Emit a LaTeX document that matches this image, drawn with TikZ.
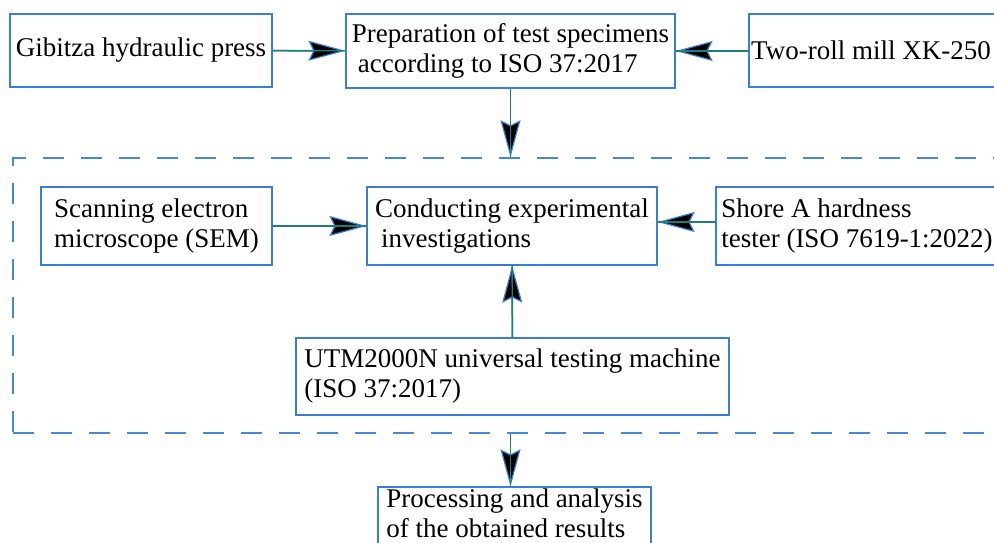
\documentclass[tikz,border=0pt]{standalone}
\usepackage{fontspec}
\setmainfont{Liberation Serif}
\usetikzlibrary{arrows.meta}
\definecolor{boxblue}{RGB}{58,125,212}
\definecolor{dashblue}{RGB}{70,135,215}
\definecolor{lineteal}{RGB}{30,125,125}
\begin{document}
\begin{tikzpicture}[x=1pt,y=-1pt,
  box/.style={draw=boxblue, line width=1.3pt, align=left, inner sep=0pt,
    font=\fontsize{27}{30}\selectfont},
  conn/.style={draw=lineteal, line width=1.6pt,
    -{Stealth[length=37pt,width=20pt,inset=5pt,line width=1.2pt,color=boxblue,fill=black]}},
  over/.style={draw=lineteal, line width=1.4pt},
  frame/.style={draw=dashblue, line width=1.6pt, dash pattern=on 21pt off 17pt, inner sep=0pt}
]
\useasboundingbox (0,0) rectangle (994,543);
\clip (0,0) rectangle (994,543);
\fill[white] (0,0) rectangle (994,543);

\node[frame, minimum width=990pt, minimum height=275pt] (frm) at (508,295.5) {};

\node[box, minimum width=262pt, minimum height=73pt] (gib) at (141,50.5) {Gibitza hydraulic press};
\node[box, minimum width=329pt, minimum height=74pt] (prep) at (510.5,51) {Preparation of test specimens\\\hspace{6pt}according to ISO 37:2017};
\node[box, minimum width=250pt, minimum height=73pt] (two) at (874,50.5) {Two-roll mill XK-250\hspace{6pt}};

\node[box, minimum width=231pt, minimum height=78pt] (sem) at (156.5,226) {Scanning electron\\microscope (SEM)};
\node[box, minimum width=290pt, minimum height=78pt] (cond) at (512,226) {Conducting experimental\\\hspace{6pt}investigations};
\node[box, minimum width=282pt, minimum height=78pt] (shore) at (857,226) {Shore A hardness\\tester (ISO 7619-1:2022)};

\node[box, minimum width=433pt, minimum height=77pt] (utm) at (512.5,376.5) {UTM2000N universal testing machine\\(ISO 37:2017)};

\node[box, minimum width=273pt, minimum height=70pt] (proc) at (514.5,522) {Processing and analysis\\of the obtained results\rule[-17pt]{0pt}{1pt}};

\draw[conn] (gib) -- (prep);
\draw[over] (gib) -- (prep);
\draw[conn] (two.west |- prep) -- (prep.east);
\draw[over] (two.west |- prep) -- (prep.east);
\draw[conn] (prep.south) -- (prep.south |- frm.north);
\draw[over] (prep.south) -- (prep.south |- frm.north);
\draw[conn] (sem) -- (cond);
\draw[over] (sem) -- (cond);
\draw[conn] ([yshift=4pt]shore.west) -- ([yshift=4pt]cond.east);
\draw[over] ([yshift=4pt]shore.west) -- ([yshift=4pt]cond.east);
\draw[conn] (utm) -- (cond);
\draw[over] (utm) -- (cond);
\draw[conn] (prep.south |- frm.south) -- (prep.south |- proc.north);
\draw[over] (prep.south |- frm.south) -- (prep.south |- proc.north);
\end{tikzpicture}
\end{document}
